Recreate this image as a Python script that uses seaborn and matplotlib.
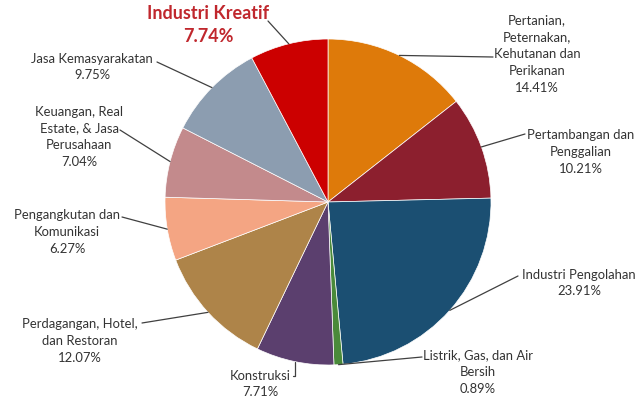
import matplotlib
matplotlib.use("Agg")
import matplotlib.pyplot as plt
import numpy as np
import seaborn as sns

# ---- data ----
categories = [
    "Pertanian,\nPeternakan,\nKehutanan dan\nPerikanan",
    "Pertambangan dan\nPenggalian",
    "Industri Pengolahan",
    "Listrik, Gas, dan Air\nBersih",
    "Konstruksi",
    "Perdagangan, Hotel,\ndan Restoran",
    "Pengangkutan dan\nKomunikasi",
    "Keuangan, Real\nEstate, & Jasa\nPerusahaan",
    "Jasa Kemasyarakatan",
    "Industri Kreatif",
]
shares = [14.41, 10.21, 23.91, 0.89, 7.71, 12.07, 6.27, 7.04, 9.75, 7.74]
colors = ["#DE7A0A", "#8C1F2E", "#1B4F72", "#4A8A3A", "#5B3F6E",
          "#AE8449", "#F4A583", "#C38A8C", "#8C9DB0", "#CC0000"]

# ---- layout (pixel coords, y measured from top) ----
W, H = 640, 403
center = (328, 202)
radius = 163
text_pos = [(537, 54), (581, 152), (579, 283), (478, 372), (260, 384),
            (80, 341), (67, 232), (79, 137), (92, 67), (208, 25)]
line_start = [(493, 57), (525, 134), (518, 276), (422, 357), (293, 376),
              (142, 323), (122, 217), (120, 130), (157, 62), (268, 21)]

sns.set_theme(style="white")
plt.rcParams["font.family"] = ["Lato", "DejaVu Sans"]

fig = plt.figure(figsize=(W / 100, H / 100), dpi=100)
ax = fig.add_axes([0, 0, 1, 1])

wedges, _ = ax.pie(shares, colors=colors, startangle=90, counterclock=False,
                   center=(center[0], H - center[1]), radius=radius,
                   wedgeprops=dict(edgecolor="white", linewidth=0.5))
ax.set_xlim(0, W)
ax.set_ylim(0, H)
ax.set_aspect("equal")
ax.axis("off")

txt_color = "#333333"
for i, (w, cat, v) in enumerate(zip(wedges, categories, shares)):
    ang = np.deg2rad((w.theta1 + w.theta2) / 2)
    ex = center[0] + radius * np.cos(ang)
    ey = (H - center[1]) + radius * np.sin(ang)
    sx, sy = line_start[i]
    tx, ty = text_pos[i]
    label = f"{cat}\n{v:.2f}%"
    if cat == "Industri Kreatif":
        ax.text(tx, H - ty, label, ha="center", va="center", fontsize=13,
                fontweight="bold", color="#C0272D", linespacing=1.38)
    else:
        ax.text(tx, H - ty, label, ha="center", va="center", fontsize=9.4,
                color=txt_color, linespacing=1.49)
    if cat == "Konstruksi":
        ax.plot([sx, ex, ex], [H - sy, H - sy, ey], color="#404040", lw=0.9)
    else:
        ax.plot([sx, ex], [H - sy, ey], color="#404040", lw=0.9)

fig.savefig("out.png", dpi=100, facecolor="white")
